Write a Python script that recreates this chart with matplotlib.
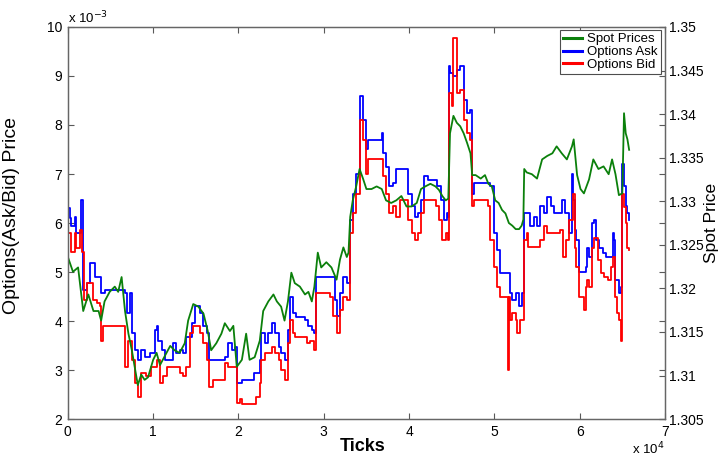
import matplotlib
matplotlib.use('Agg')
import matplotlib.pyplot as plt
import numpy as np

plt.rcParams['font.family'] = ['Liberation Sans', 'DejaVu Sans']

# tick positions are in units of 1e4 ticks, option prices in units of 1e-3
ask_t = np.array([0.00, 0.02, 0.04, 0.08, 0.10, 0.12, 0.15, 0.18, 0.22, 0.26,
                  0.30, 0.32, 0.36, 0.39, 0.43, 0.67, 0.69, 0.73, 0.75, 0.79,
                  0.82, 0.86, 0.90, 0.96, 1.02, 1.04, 1.06, 1.10, 1.14, 1.20,
                  1.23, 1.27, 1.31, 1.35, 1.39, 1.45, 1.49, 1.55, 1.59, 1.63,
                  1.66, 1.82, 1.84, 1.88, 1.92, 1.96, 1.98, 2.04, 2.18, 2.25,
                  2.27, 2.31, 2.35, 2.39, 2.43, 2.47, 2.50, 2.54, 2.58, 2.60,
                  2.64, 2.68, 2.78, 2.82, 2.86, 2.89, 2.91, 3.13, 3.15, 3.19,
                  3.23, 3.27, 3.31, 3.34, 3.38, 3.42, 3.46, 3.50, 3.52, 3.68,
                  3.70, 3.73, 3.77, 3.81, 3.85, 3.99, 4.03, 4.07, 4.11, 4.14,
                  4.18, 4.22, 4.33, 4.37, 4.41, 4.45, 4.46, 4.47, 4.48, 4.52,
                  4.56, 4.60, 4.64, 4.68, 4.72, 4.74, 4.76, 4.95, 4.99, 5.03,
                  5.07, 5.18, 5.21, 5.25, 5.29, 5.32, 5.35, 5.42, 5.46, 5.50,
                  5.54, 5.58, 5.62, 5.66, 5.70, 5.79, 5.83, 5.87, 5.91, 5.92,
                  5.94, 5.96, 5.99, 6.07, 6.09, 6.11, 6.15, 6.17, 6.19, 6.23,
                  6.27, 6.31, 6.39, 6.40, 6.42, 6.46, 6.48, 6.50, 6.52, 6.54,
                  6.56, 6.58]) * 1e4
ask = np.array([6.30, 6.10, 5.93, 6.13, 5.80, 5.80, 6.47, 4.64, 4.77, 5.18,
                5.18, 4.90, 4.90, 4.57, 4.64, 4.57, 4.16, 4.57, 3.75, 3.40,
                3.20, 3.40, 3.27, 3.34, 3.82, 3.89, 3.60, 3.40, 3.20, 3.20,
                3.55, 3.34, 3.40, 3.34, 3.68, 3.95, 4.30, 4.16, 3.89, 3.75,
                3.20, 3.20, 3.27, 3.55, 3.40, 3.48, 2.73, 2.80, 2.93, 3.20,
                3.75, 3.55, 3.75, 3.95, 3.75, 3.48, 3.34, 3.20, 3.82, 4.50,
                4.16, 4.09, 4.02, 3.89, 3.82, 3.75, 4.90, 4.43, 4.10, 4.57,
                4.90, 4.77, 6.07, 6.60, 7.00, 8.60, 8.10, 7.50, 7.70, 7.84,
                7.43, 7.15, 6.75, 6.81, 7.10, 6.60, 6.34, 6.13, 6.20, 6.47,
                6.95, 6.88, 6.75, 6.47, 6.07, 6.20, 6.13, 9.20, 9.06, 9.00,
                9.13, 9.20, 8.52, 8.24, 8.30, 6.60, 6.81, 6.75, 5.80, 5.45,
                4.98, 4.57, 4.43, 4.57, 4.30, 4.57, 6.20, 5.93, 6.13, 5.93,
                6.34, 6.20, 6.54, 6.34, 6.20, 6.47, 6.20, 5.80, 7.00, 6.47,
                5.86, 5.65, 5.00, 5.10, 5.50, 5.30, 6.00, 6.06, 5.65, 5.50,
                5.38, 5.30, 5.80, 5.65, 4.84, 4.57, 4.70, 7.20, 6.75, 6.34,
                6.20, 6.07]) * 1e-3

bid_t = np.array([0.00, 0.04, 0.08, 0.10, 0.14, 0.17, 0.19, 0.22, 0.30, 0.34,
                  0.38, 0.39, 0.41, 0.65, 0.67, 0.71, 0.75, 0.79, 0.82, 0.86,
                  0.92, 0.98, 1.04, 1.08, 1.12, 1.16, 1.31, 1.35, 1.39, 1.43,
                  1.47, 1.55, 1.59, 1.63, 1.66, 1.70, 1.84, 1.88, 1.98, 2.02,
                  2.04, 2.21, 2.25, 2.27, 2.31, 2.39, 2.43, 2.47, 2.50, 2.54,
                  2.58, 2.60, 2.64, 2.66, 2.80, 2.84, 2.88, 2.91, 3.07, 3.11,
                  3.15, 3.19, 3.23, 3.27, 3.31, 3.34, 3.38, 3.42, 3.46, 3.50,
                  3.52, 3.68, 3.70, 3.73, 3.77, 3.81, 3.85, 3.89, 3.99, 4.03,
                  4.07, 4.11, 4.14, 4.18, 4.31, 4.35, 4.39, 4.43, 4.46, 4.47,
                  4.50, 4.52, 4.56, 4.60, 4.64, 4.68, 4.72, 4.74, 4.76, 4.93,
                  4.95, 4.99, 5.03, 5.07, 5.16, 5.17, 5.18, 5.21, 5.25, 5.27,
                  5.30, 5.35, 5.38, 5.40, 5.54, 5.58, 5.62, 5.66, 5.77, 5.80,
                  5.84, 5.88, 5.92, 5.94, 5.96, 5.99, 6.05, 6.07, 6.09, 6.11,
                  6.15, 6.17, 6.21, 6.25, 6.29, 6.33, 6.37, 6.39, 6.42, 6.44,
                  6.46, 6.48, 6.50, 6.52, 6.54, 6.56, 6.58]) * 1e4
bid = np.array([5.80, 5.40, 5.80, 5.50, 5.86, 5.40, 4.43, 4.77, 4.43, 4.36,
                4.30, 3.60, 3.90, 3.90, 3.07, 3.60, 3.20, 2.73, 2.45, 2.93,
                2.87, 3.07, 3.20, 2.73, 2.87, 3.07, 2.93, 2.87, 3.07, 3.75,
                3.89, 3.75, 3.55, 3.20, 2.66, 2.80, 3.14, 3.07, 2.32, 2.40,
                2.30, 2.46, 2.73, 3.20, 3.34, 3.48, 3.34, 3.20, 3.00, 2.80,
                3.55, 4.02, 3.75, 3.68, 3.55, 3.60, 3.40, 4.57, 4.50, 4.10,
                3.75, 4.23, 4.50, 4.43, 5.80, 6.20, 6.60, 8.10, 7.70, 7.00,
                7.30, 7.30, 6.95, 6.60, 6.20, 6.34, 6.13, 6.47, 6.07, 5.80,
                5.66, 5.80, 6.20, 6.47, 6.34, 6.07, 5.66, 5.80, 5.66, 8.65,
                8.38, 9.78, 8.65, 8.72, 8.10, 7.84, 7.70, 6.34, 6.47, 6.34,
                5.66, 5.11, 4.70, 4.50, 3.00, 4.50, 4.02, 4.16, 4.02, 3.75,
                4.02, 5.66, 5.80, 5.52, 5.66, 5.93, 5.80, 5.80, 5.85, 5.31,
                5.65, 6.06, 6.60, 5.50, 5.10, 4.50, 4.22, 4.70, 4.84, 4.70,
                5.50, 5.70, 5.24, 4.98, 4.90, 4.84, 5.10, 5.30, 4.50, 4.16,
                4.02, 3.60, 6.60, 6.33, 6.00, 5.50, 5.45]) * 1e-3

spot_t = np.array([0.00, 0.06, 0.12, 0.18, 0.24, 0.30, 0.36, 0.39, 0.43, 0.49,
                   0.55, 0.59, 0.63, 0.67, 0.71, 0.75, 0.79, 0.82, 0.86, 0.90,
                   0.94, 1.00, 1.04, 1.08, 1.14, 1.20, 1.25, 1.31, 1.37, 1.41,
                   1.47, 1.53, 1.59, 1.64, 1.68, 1.74, 1.80, 1.84, 1.90, 1.94,
                   1.98, 2.04, 2.09, 2.13, 2.19, 2.25, 2.29, 2.35, 2.41, 2.45,
                   2.50, 2.54, 2.58, 2.62, 2.66, 2.72, 2.78, 2.82, 2.86, 2.89,
                   2.93, 2.97, 3.03, 3.09, 3.15, 3.19, 3.23, 3.27, 3.29, 3.31,
                   3.34, 3.38, 3.42, 3.46, 3.50, 3.56, 3.62, 3.68, 3.73, 3.79,
                   3.85, 3.91, 3.97, 4.03, 4.09, 4.14, 4.19, 4.25, 4.31, 4.35,
                   4.39, 4.43, 4.46, 4.48, 4.52, 4.56, 4.60, 4.64, 4.68, 4.72,
                   4.74, 4.78, 4.84, 4.89, 4.93, 4.97, 5.01, 5.05, 5.09, 5.13,
                   5.17, 5.21, 5.25, 5.29, 5.32, 5.34, 5.35, 5.38, 5.44, 5.50,
                   5.56, 5.62, 5.68, 5.73, 5.79, 5.85, 5.91, 5.93, 5.97, 6.01,
                   6.05, 6.11, 6.16, 6.22, 6.28, 6.34, 6.38, 6.42, 6.46, 6.50,
                   6.52, 6.54, 6.56, 6.58]) * 1e4
spot = np.array([1.3236, 1.3219, 1.3224, 1.3174, 1.3193, 1.3174, 1.3174, 1.3163, 1.3185, 1.3196,
                 1.3202, 1.3196, 1.3213, 1.3174, 1.3148, 1.3129, 1.3106, 1.3089, 1.3101, 1.3095,
                 1.3098, 1.3118, 1.3126, 1.3112, 1.3123, 1.3134, 1.3129, 1.3126, 1.3137, 1.3163,
                 1.3182, 1.3179, 1.3171, 1.3151, 1.3129, 1.3137, 1.3148, 1.3160, 1.3151, 1.3157,
                 1.3110, 1.3118, 1.3148, 1.3118, 1.3121, 1.3140, 1.3174, 1.3185, 1.3193, 1.3185,
                 1.3179, 1.3163, 1.3185, 1.3218, 1.3206, 1.3202, 1.3193, 1.3196, 1.3185, 1.3202,
                 1.3241, 1.3224, 1.3230, 1.3224, 1.3210, 1.3233, 1.3247, 1.3236, 1.3241, 1.3282,
                 1.3301, 1.3317, 1.3337, 1.3326, 1.3314, 1.3314, 1.3317, 1.3314, 1.3301, 1.3298,
                 1.3301, 1.3306, 1.3294, 1.3294, 1.3298, 1.3314, 1.3317, 1.3320, 1.3317, 1.3313,
                 1.3306, 1.3301, 1.3303, 1.3378, 1.3398, 1.3390, 1.3386, 1.3378, 1.3367, 1.3355,
                 1.3330, 1.3330, 1.3326, 1.3330, 1.3320, 1.3317, 1.3301, 1.3298, 1.3290, 1.3286,
                 1.3275, 1.3272, 1.3268, 1.3268, 1.3272, 1.3279, 1.3337, 1.3333, 1.3331, 1.3326,
                 1.3348, 1.3352, 1.3355, 1.3363, 1.3355, 1.3348, 1.3363, 1.3371, 1.3330, 1.3314,
                 1.3309, 1.3325, 1.3348, 1.3337, 1.3340, 1.3331, 1.3348, 1.3331, 1.3307, 1.3309,
                 1.3401, 1.3378, 1.3371, 1.3359])

x_ticks = np.arange(0, 8) * 1e4
x_labels = ['0', '1', '2', '3', '4', '5', '6', '7']
left_ticks = np.arange(2, 11) * 1e-3
left_labels = ['2', '3', '4', '5', '6', '7', '8', '9', '10']
right_ticks = np.round(np.arange(1.305, 1.3501, 0.005), 3)
right_labels = ['%g' % v for v in right_ticks]

fig = plt.figure(figsize=(7.22, 4.57), dpi=100)
ax = fig.add_axes([0.094, 0.083, 0.827, 0.858])
ax2 = ax.twinx()

l_ask, = ax.plot(ask_t, ask, color='#0000ff', lw=1.3, drawstyle='steps-post', label='Options Ask')
l_bid, = ax.plot(bid_t, bid, color='#ff0000', lw=1.3, drawstyle='steps-post', label='Options Bid')
l_spot, = ax2.plot(spot_t, spot, color='#0b800b', lw=1.3, label='Spot Prices')

ax.set_xlim(0, 7e4)
ax.set_ylim(2e-3, 10e-3)
ax2.set_ylim(1.305, 1.35)

ax.set_xticks(x_ticks)
ax.set_xticklabels(x_labels)
ax.set_yticks(left_ticks)
ax.set_yticklabels(left_labels)
ax2.set_yticks(right_ticks)
ax2.set_yticklabels(right_labels)

ax.tick_params(direction='in', top=True, right=True, length=4, labelsize=10,
               color='0.35', pad=4)
ax2.tick_params(direction='in', length=4, labelsize=10, color='0.35', pad=3)
for a in (ax, ax2):
    for s in a.spines.values():
        s.set_color('0.4')
        s.set_linewidth(0.9)

ax.set_ylabel('Options(Ask/Bid) Price', fontsize=14)
ax.yaxis.set_label_coords(-0.080, 0.52)
ax2.set_ylabel('Spot Price', fontsize=12.5)
ax2.yaxis.set_label_coords(1.066, 0.5)
ax.set_xlabel('Ticks', fontsize=13, fontweight='bold')
ax.xaxis.set_label_coords(0.494, -0.048)

fig.text(0.094, 0.96, 'x 10$^{-3}$', fontsize=9.5, ha='left', va='center')
fig.text(0.875, 0.017, 'x 10$^{4}$', fontsize=9.5, ha='left', va='center')

leg = ax2.legend([l_spot, l_ask, l_bid], ['Spot Prices', 'Options Ask', 'Options Bid'],
                 loc='upper right', bbox_to_anchor=(0.993, 0.993), borderaxespad=0,
                 fancybox=False, edgecolor='0.3', framealpha=1, fontsize=9.5,
                 handlelength=1.4, labelspacing=0.05, borderpad=0.25, handletextpad=0.4)
for h in leg.get_lines():
    h.set_linewidth(2.2)
leg.get_frame().set_linewidth(0.8)

fig.savefig('out.png', dpi=100)
plt.close(fig)
